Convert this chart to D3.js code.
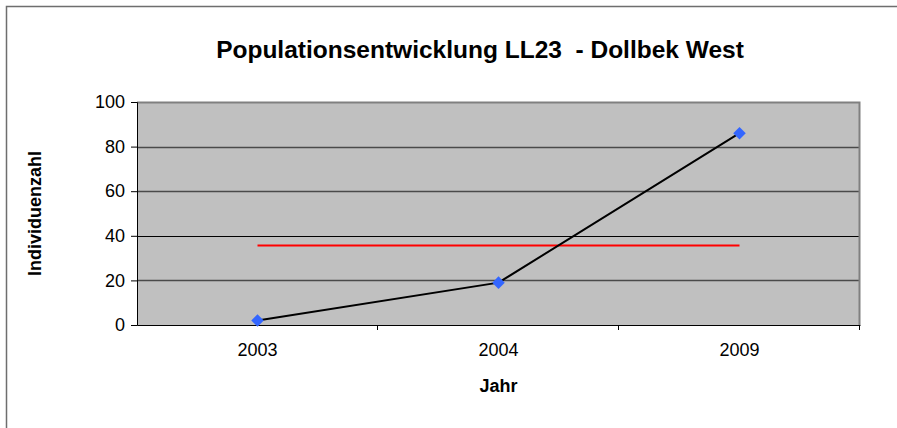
<!DOCTYPE html>
<html>
<head>
<meta charset="utf-8">
<script src="https://cdn.jsdelivr.net/npm/d3@7"></script>
<style>
  body { margin: 0; background: #fff; }
  text { font-family: "Liberation Sans", Arial, sans-serif; }
</style>
</head>
<body>
<div id="chart"></div>
<script>
// data
var years = ["2003", "2004", "2009"];
var counts = [2, 19, 86];
var meanLine = [35.7, 35.7, 35.7];
var yTicks = [0, 20, 40, 60, 80, 100];

var W = 897, H = 428;
var margin = {top: 102, right: 37, bottom: 103, left: 137},
    width = W - margin.left - margin.right,
    height = H - margin.top - margin.bottom;

var svg = d3.select("#chart").append("svg")
    .attr("width", W)
    .attr("height", H);

// outer chart border (only top/left visible)
svg.append("rect")
    .attr("x", 6.5).attr("y", 6.5)
    .attr("width", W + 20).attr("height", H + 20)
    .attr("fill", "#fff")
    .attr("stroke", "#6e6e6e")
    .attr("stroke-width", 1.5);

var g = svg.append("g")
    .attr("transform", "translate(" + margin.left + "," + margin.top + ")");

var x = d3.scaleBand()
    .domain(years)
    .range([0, width]);

var y = d3.scaleLinear()
    .domain([0, 100])
    .range([height, 0]);

// plot background
g.append("rect")
    .attr("width", width)
    .attr("height", height)
    .attr("fill", "#c0c0c0");

// gridlines
g.selectAll("line.grid")
  .data(yTicks.filter(function(d) { return d > 0 && d < 100; }))
  .enter().append("line")
    .attr("class", "grid")
    .attr("x1", 0).attr("x2", width)
    .attr("y1", function(d) { return Math.round(y(d)) + 0.5; })
    .attr("y2", function(d) { return Math.round(y(d)) + 0.5; })
    .attr("stroke", function(d) { return d == 40 ? "#000" : "#4a4a4a"; })
    .attr("stroke-width", function(d) { return d == 40 ? 1 : 1.5; });

// plot border (top/right)
g.append("path")
    .attr("d", "M0,0.5H" + (width - 0.5) + "V" + height)
    .attr("fill", "none")
    .attr("stroke", "#808080")
    .attr("stroke-width", 2);

var tickFont = "'Liberation Sans', Arial, sans-serif";

// y axis
var yAxis = g.append("g")
    .call(d3.axisLeft(y).tickValues(yTicks).tickSize(6).tickPadding(6));
yAxis.select(".domain").attr("stroke", "#000");
yAxis.selectAll(".tick line").attr("stroke", "#000");
yAxis.selectAll("text").attr("font-size", 18).attr("fill", "#000")
    .style("font-family", tickFont);

// x axis with ticks at category boundaries
var xAxis = g.append("g")
    .attr("transform", "translate(0," + height + ")")
    .call(d3.axisBottom(x).tickSize(0).tickPadding(18));
xAxis.select(".domain").attr("stroke", "#000");
xAxis.selectAll("text").attr("font-size", 18).attr("fill", "#000")
    .style("font-family", tickFont);
g.selectAll("line.xtick")
  .data(years)
  .enter().append("line")
    .attr("class", "xtick")
    .attr("x1", function(d) { return Math.round(x(d) + x.bandwidth()) - 0.5; })
    .attr("x2", function(d) { return Math.round(x(d) + x.bandwidth()) - 0.5; })
    .attr("y1", height).attr("y2", height + 5)
    .attr("stroke", "#000");

// mean line (red)
var line = d3.line()
    .x(function(d, i) { return x(years[i]) + x.bandwidth() / 2; })
    .y(function(d) { return y(d); });

g.append("path")
    .datum(meanLine)
    .attr("d", line)
    .attr("fill", "none")
    .attr("stroke", "#ff0000")
    .attr("stroke-width", 2);

// population line
g.append("path")
    .datum(counts)
    .attr("d", line)
    .attr("fill", "none")
    .attr("stroke", "#000")
    .attr("stroke-width", 2);

// diamond markers
g.selectAll("path.marker")
  .data(counts)
  .enter().append("path")
    .attr("class", "marker")
    .attr("d", d3.symbol().type(d3.symbolDiamond2).size(100))
    .attr("transform", function(d, i) {
      return "translate(" + (x(years[i]) + x.bandwidth() / 2) + "," + y(d) + ")";
    })
    .attr("fill", "#3366ff");

// title
svg.append("text")
    .attr("x", 480)
    .attr("y", 58)
    .attr("text-anchor", "middle")
    .attr("font-size", 24.5)
    .attr("font-weight", "bold")
    .style("white-space", "pre")
    .text("Populationsentwicklung LL23  - Dollbek West");

// axis labels
svg.append("text")
    .attr("x", margin.left + width / 2)
    .attr("y", 392)
    .attr("text-anchor", "middle")
    .attr("font-size", 18)
    .attr("font-weight", "bold")
    .text("Jahr");

svg.append("text")
    .attr("transform", "translate(41," + (margin.top + height / 2) + ") rotate(-90)")
    .attr("text-anchor", "middle")
    .attr("font-size", 18)
    .attr("font-weight", "bold")
    .text("Individuenzahl");
</script>
</body>
</html>
